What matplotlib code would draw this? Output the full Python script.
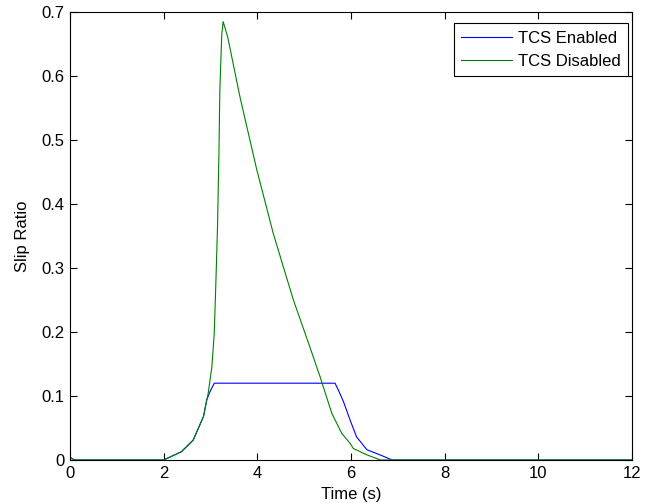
"""
Slip ratio over time, TCS enabled vs disabled (MATLAB-style plot)
"""
import matplotlib
matplotlib.use('Agg')
import matplotlib.pyplot as plt

# data
time_enabled = [0, 0.1, 2.0, 2.38, 2.63, 2.85, 2.92, 2.99, 3.08, 5.66, 5.75, 5.84,
                5.98, 6.12, 6.34, 6.62, 6.88, 12]
slip_enabled = [0.004, 0, 0, 0.013, 0.031, 0.068, 0.094, 0.107, 0.12, 0.12, 0.106, 0.091,
                0.0625, 0.036, 0.016, 0.008, 0, 0]

time_disabled = [0, 0.1, 2.0, 2.38, 2.63, 2.85, 2.95, 3.03, 3.08, 3.11, 3.15, 3.18,
                 3.2, 3.24, 3.27, 3.37, 3.63, 3.99, 4.34, 4.77, 5.12, 5.34, 5.59,
                 5.80, 5.98, 6.05, 6.34, 6.63, 12]
slip_disabled = [0.004, 0, 0, 0.013, 0.031, 0.068, 0.104, 0.146, 0.198, 0.266, 0.365,
                 0.48, 0.58, 0.664, 0.685, 0.66, 0.567, 0.453, 0.354, 0.25, 0.177,
                 0.13, 0.073, 0.042, 0.026, 0.018, 0.008, 0, 0]

x_ticks = [0, 2, 4, 6, 8, 10, 12]
y_ticks = [0, 0.1, 0.2, 0.3, 0.4, 0.5, 0.6, 0.7]
y_tick_labels = ['0', '0.1', '0.2', '0.3', '0.4', '0.5', '0.6', '0.7']

plt.rcParams['font.family'] = ['Liberation Sans', 'DejaVu Sans']

fig = plt.figure(figsize=(6.56, 5.03), dpi=100)
ax = fig.add_axes([70 / 656, 43 / 503, 562 / 656, 448 / 503])

ax.plot(time_enabled, slip_enabled, color=(0, 0, 1), linewidth=0.8, label='TCS Enabled')
ax.plot(time_disabled, slip_disabled, color=(0, 0.5, 0), linewidth=0.8, label='TCS Disabled')

ax.set_xlim(0, 12)
ax.set_ylim(0, 0.7)
ax.set_xticks(x_ticks)
ax.set_yticks(y_ticks)
ax.set_yticklabels(y_tick_labels)
ax.tick_params(direction='in', top=True, right=True, length=5, width=0.8,
               labelsize=12, pad=4)
for s in ax.spines.values():
    s.set_linewidth(0.8)

ax.set_xlabel('Time (s)', fontsize=12, labelpad=5)
ax.set_ylabel('Slip Ratio', fontsize=12, labelpad=8)

# legend box: right edge ~4px inside the axes, top ~11px below it
leg = ax.legend(loc='upper right', bbox_to_anchor=(0.9929, 0.9754), borderaxespad=0,
                fontsize=12, fancybox=False, framealpha=1, edgecolor='black',
                handlelength=3.05, handletextpad=0.35, borderpad=0.45,
                labelspacing=0.5)
leg.get_frame().set_linewidth(0.8)

fig.savefig('out.png', dpi=100)
